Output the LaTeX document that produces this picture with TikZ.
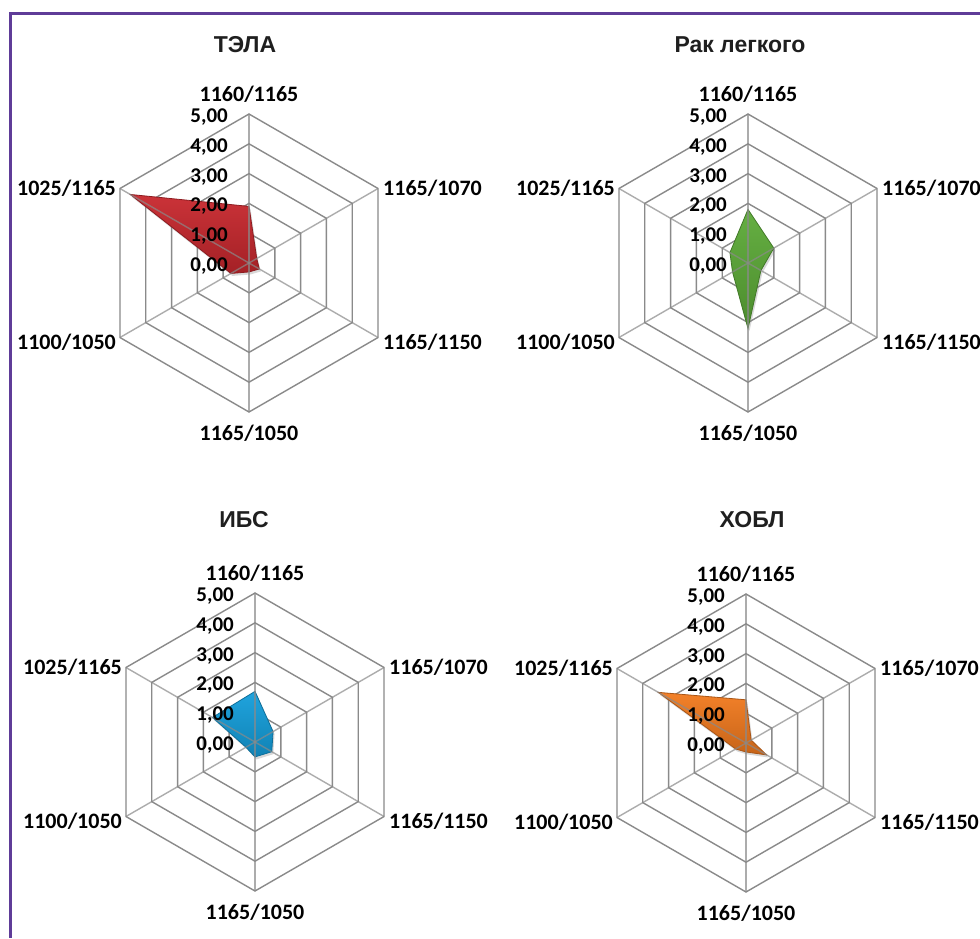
\documentclass[tikz,border=0pt]{standalone}
\usepackage{fontspec}
\setmainfont{Carlito}
\newfontfamily\titlefamily{Liberation Sans}
\usetikzlibrary{shadows}

\definecolor{framepurple}{HTML}{5F3C98}
\definecolor{gridgray}{HTML}{8A8A8A}
\definecolor{telared}{HTML}{C8282E}
\definecolor{rakgreen}{HTML}{5DAB38}
\definecolor{ibsblue}{HTML}{149FDC}
\definecolor{hoblorange}{HTML}{F27A1E}

\def\ringstep{29.8}

\tikzset{
  gridline/.style={draw=gridgray, line width=1.4pt},
  spoke/.style={gridline, draw opacity=0.7},
  axislabel/.style={font=\fontsize{22}{26}\selectfont\bfseries, text=black, inner sep=0pt},
  ticklabel/.style={axislabel, font=\fontsize{21}{25}\selectfont\bfseries, anchor=base east},
  charttitle/.style={font=\titlefamily\fontsize{23}{28}\selectfont\bfseries, text=black!88, inner sep=0pt, anchor=base},
  datafill/.style={top color=#1!95!white, bottom color=#1!82!black, draw=#1!70!black, line width=0.8pt,
    drop shadow={shadow xshift=1.5pt, shadow yshift=-2.5pt, opacity=0.3}},
}

% #1 name, #2 centre, #3 colour, #4 six values
\newcommand{\radarchart}[4]{%
  \begin{scope}[shift={#2}]
    \foreach \r in {1,...,5}
      \draw[gridline] (90:\r*\ringstep) -- (30:\r*\ringstep) -- (-30:\r*\ringstep)
        -- (-90:\r*\ringstep) -- (-150:\r*\ringstep) -- (150:\r*\ringstep) -- cycle;
    \foreach \v [count=\i] in {#4}
      \coordinate (#1-p\i) at ({150-60*\i}:\v*\ringstep);
    \path[datafill=#3] (#1-p1) -- (#1-p2) -- (#1-p3) -- (#1-p4) -- (#1-p5) -- (#1-p6) -- cycle;
    \foreach \a in {90,30,...,-210}
      \draw[spoke] (0,0) -- (\a:5*\ringstep);

    \node[axislabel, anchor=base] (#1-top) at (0,161.5) {1160/1165};
    \node[axislabel, anchor=base west] (#1-ur) at (134,68) {1165/1070};
    \node[axislabel, anchor=base west] (#1-lr) at (134,-86) {1165/1150};
    \node[axislabel, anchor=base] (#1-bot) at (0,-177) {1165/1050};
    \node[axislabel, anchor=base east] (#1-ll) at (-133,-86) {1100/1050};
    \node[axislabel, anchor=base east] (#1-ul) at (-133,68) {1025/1165};
    \foreach \k in {0,...,5}
      \node[ticklabel] (#1-tick\k) at (-21,\k*\ringstep-8.5) {\k,00};
  \end{scope}}

\begin{document}
\begin{tikzpicture}[x=1pt, y=1pt]
  \useasboundingbox (0,0) rectangle (980,-938);
  \fill[white] (0,0) rectangle (980,-938);
  \draw[framepurple, line width=3pt] (980,-13) -- (10,-13) -- (10,-938);

  \radarchart{tela}{(249,-263)}{telared}{1.9,0.3,0.4,0.3,0.7,4.6}
  \radarchart{rak}{(748,-263)}{rakgreen}{1.8,1.0,0.5,2.2,0.6,0.7}
  \radarchart{ibs}{(255,-742)}{ibsblue}{1.7,0.7,0.65,0.5,0.35,1.65}
  \radarchart{hobl}{(746,-743)}{hoblorange}{1.45,0.2,0.8,0.3,0.4,3.4}

  \node[charttitle] (tela-title) at (245,-52) {ТЭЛА};
  \node[charttitle] (rak-title) at (740,-52) {Рак легкого};
  \node[charttitle] (ibs-title) at (244,-527) {ИБС};
  \node[charttitle] (hobl-title) at (752,-527) {ХОБЛ};
\end{tikzpicture}
\end{document}
